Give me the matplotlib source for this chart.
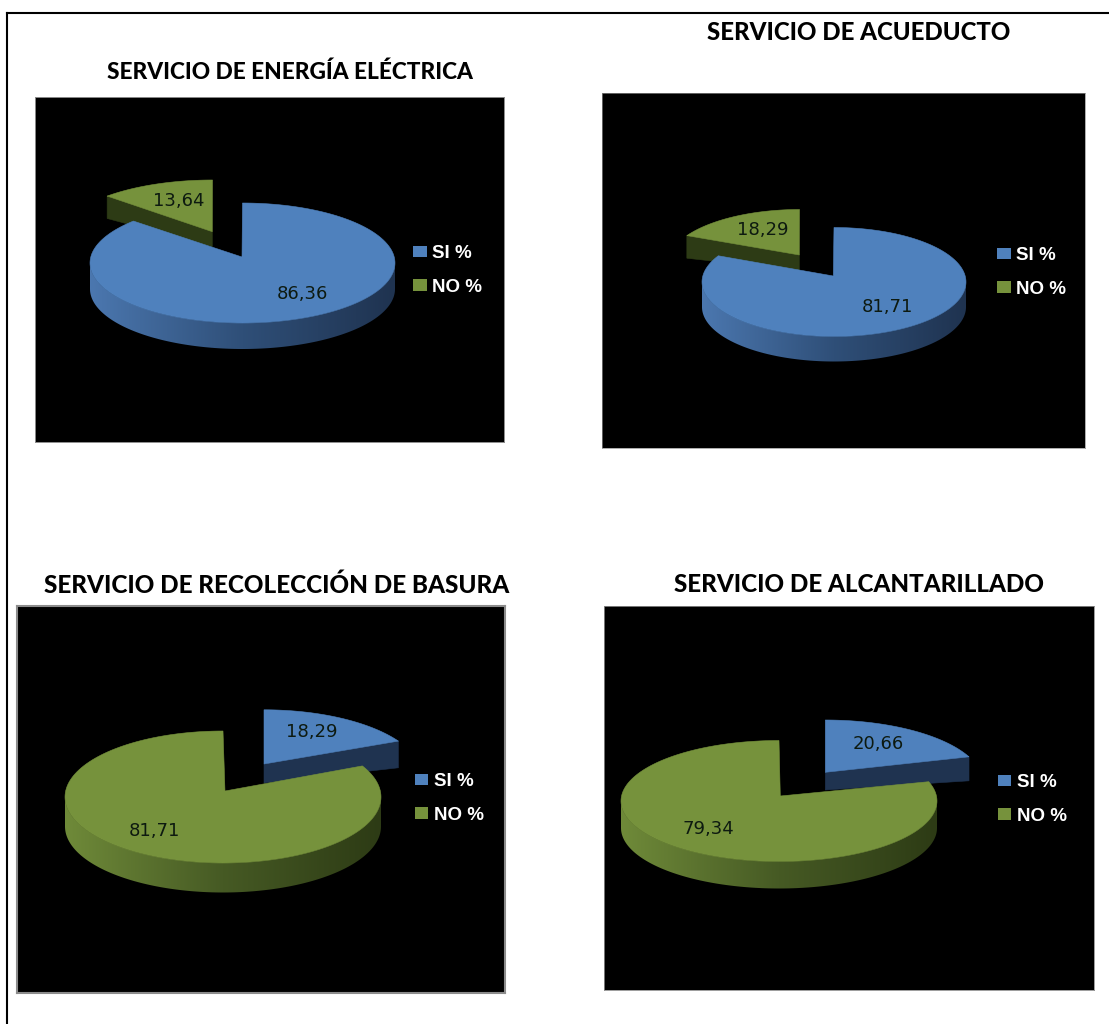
import numpy as np
import matplotlib
matplotlib.use("Agg")
import matplotlib.pyplot as plt
from matplotlib.lines import Line2D
from matplotlib.patches import Patch, Polygon

# ============================
# Data
# ============================
titles = [
    "SERVICIO DE ENERGÍA ELÉCTRICA",
    "SERVICIO DE ACUEDUCTO",
    "SERVICIO DE RECOLECCIÓN DE BASURA",
    "SERVICIO DE ALCANTARILLADO",
]
categories = ["SI %", "NO %"]
si_values = [86.36, 81.71, 18.29, 20.66]
no_values = [13.64, 18.29, 81.71, 79.34]

# ----------------------------
# Layout, in image pixels
# ----------------------------
W, H = 1109, 1024
BLUE = {"face": "#4f81bd", "light": "#4b77af", "mid": "#2f4f78", "dark": "#1f3350"}
GREEN = {"face": "#76923c", "light": "#6f8a39", "mid": "#465a24", "dark": "#2d3b15"}

panels = [
    dict(box=(35, 97, 504, 442), title=(290, 72), title_size=16.3, main=(242.5, 263, 152.5, 60, 26), tip=(242, 257),
         small=(212.5, 238, 58), small_tip=(212.3, 231.7), small_depth=(15, 22.4), border=0.7,
         k_main=0.93, k_small=0.89, lab_main=(302, 294), lab_small=(179, 201), legend=(413, 270.5)),
    dict(box=(602, 93, 1085, 448), title=(858.5, 33), title_size=17.3, main=(834, 282, 132, 54.5, 25), tip=(833.3, 276),
         small=(799.5, 264, 54.5), small_tip=(799.3, 255), small_depth=(15.7, 22.6), border=0.5,
         k_main=0.93, k_small=0.89, lab_main=(887, 307), lab_small=(763, 230), legend=(997, 272.5)),
    dict(box=(17, 606, 505, 993), title=(276.5, 585), title_size=17.45, main=(223, 797, 158, 66, 29.5), tip=(225, 791),
         small=(264, 775.8, 66), small_tip=(264, 764), small_depth=(19, 26.7), border=1.5,
         k_main=0.94, k_small=0.885, lab_main=(154, 831), lab_small=(312, 732), legend=(415, 798.5)),
    dict(box=(604, 606, 1094, 990), title=(859, 585), title_size=17.4, main=(779, 801, 158, 60.5, 27), tip=(780.3, 796),
         small=(825.3, 783, 63), small_tip=(825.3, 772.3), small_depth=(17.7, 24), border=0.6,
         k_main=0.96, k_small=0.88, lab_main=(708, 829), lab_small=(878, 744), legend=(998, 799.5)),
]


def ring(cx, cy, a, b, start, stop, n=160):
    t = np.radians(np.linspace(start, stop, n))
    return np.column_stack([cx + a * np.cos(t), cy - b * np.sin(t)])


def rim_gradient(pal, n=200):
    # dark gradient running left to right along the rim
    stops = np.array([matplotlib.colors.to_rgb(pal[k]) for k in ("light", "mid", "dark")])
    pos = np.linspace(0, 1, n)
    return np.stack([np.interp(pos, [0, 0.5, 1], stops[:, i]) for i in range(3)], axis=-1)[None, :, :]


def draw_rim(ax, cx, cy, a, b, depth, pal):
    front = ring(cx, cy, a, b, 180, 360)
    rim = Polygon(np.vstack([front, (front + [0, depth])[::-1]]), facecolor="none", edgecolor="none",
                  transform=ax.transData)
    ax.add_patch(rim)
    im = ax.imshow(rim_gradient(pal), extent=(cx - a, cx + a, cy + b + depth + 2, cy - 2),
                   aspect="auto", interpolation="bilinear", zorder=1)
    im.set_clip_path(rim)


def draw_panel(ax, cfg, si, no):
    # the small slice is pulled out, the big one sits in front of it
    # blue (SI) is drawn clockwise from 12 o'clock, green (NO) counter-clockwise
    small_is_no = no < si
    small_val = min(si, no)
    small_pal, main_pal = (GREEN, BLUE) if small_is_no else (BLUE, GREEN)
    sweep = small_val / 100 * 360
    sign = 1 if small_is_no else -1

    cx, cy, a, b, depth = cfg["main"]
    sx, sy, sb = cfg["small"]
    end_small = 90 + sign * sweep * cfg["k_small"]
    end_main = 90 + sign * sweep * cfg["k_main"]

    # small slice: side wall under the cut edge, then top face
    arc = ring(sx, sy, a, sb, 90, end_small)
    tip = np.array(cfg["small_tip"])
    corner = arc[-1]
    d0, d1 = cfg["small_depth"]
    ax.add_patch(Polygon([tip, corner, corner + [0, d1], tip + [0, d0]], zorder=0.5,
                         facecolor=small_pal["dark"], edgecolor=small_pal["dark"], lw=0.4))
    ax.add_patch(Polygon(np.vstack([tip, arc]), zorder=0.6,
                         facecolor=small_pal["face"], edgecolor=small_pal["face"], lw=0.4))

    # big slice: rim along the front half, then top face
    draw_rim(ax, cx, cy, a, b, depth, main_pal)
    if small_is_no:
        arc = ring(cx, cy, a, b, end_main, 450)
    else:
        arc = ring(cx, cy, a, b, 90, end_main + 360)
    ax.add_patch(Polygon(np.vstack([cfg["tip"], arc]), zorder=2,
                         facecolor=main_pal["face"], edgecolor=main_pal["face"], lw=0.4))

    # data labels
    labels = [(cfg["lab_main"], max(si, no)), (cfg["lab_small"], small_val)]
    for pos, val in labels:
        ax.text(pos[0], pos[1], f"{val:.2f}".replace(".", ","), ha="center", va="center", zorder=3,
                fontsize=13, color="#0d1a10", family="DejaVu Sans")

    handles = [Patch(facecolor=BLUE["face"]), Patch(facecolor=GREEN["face"])]
    ax.legend(handles, categories, loc="center left", bbox_to_anchor=cfg["legend"], bbox_transform=ax.transData,
              frameon=False, labelcolor="white", borderpad=0, borderaxespad=0,
              handlelength=0.72, handleheight=0.6, handletextpad=0.3, labelspacing=0.9,
              prop={"family": "Liberation Sans", "weight": "bold", "size": 13.5})


fig = plt.figure(figsize=(W / 100, H / 100), dpi=100, facecolor="white")

for cfg, title, si, no in zip(panels, titles, si_values, no_values):
    x0, y0, x1, y1 = cfg["box"]
    ax = fig.add_axes([x0 / W, 1 - y1 / H, (x1 - x0) / W, (y1 - y0) / H], facecolor="black")
    draw_panel(ax, cfg, si, no)
    ax.set_xlim(x0, x1)
    ax.set_ylim(y1, y0)
    ax.set_xticks([])
    ax.set_yticks([])
    for s in ax.spines.values():
        s.set_color("#8c8c8c")
        s.set_linewidth(cfg["border"])
    fig.text(cfg["title"][0] / W, 1 - cfg["title"][1] / H, title, ha="center", va="center",
             fontsize=cfg["title_size"], fontweight=900, family="Lato", color="black")

# page frame, only top and left are in the crop
fig.add_artist(Line2D([6.5 / W, 6.5 / W], [0, 1 - 13 / H], color="black", lw=1.5))
fig.add_artist(Line2D([6.5 / W, 1], [1 - 13 / H, 1 - 13 / H], color="black", lw=1.5))

fig.savefig("out.png", dpi=100, facecolor="white")
